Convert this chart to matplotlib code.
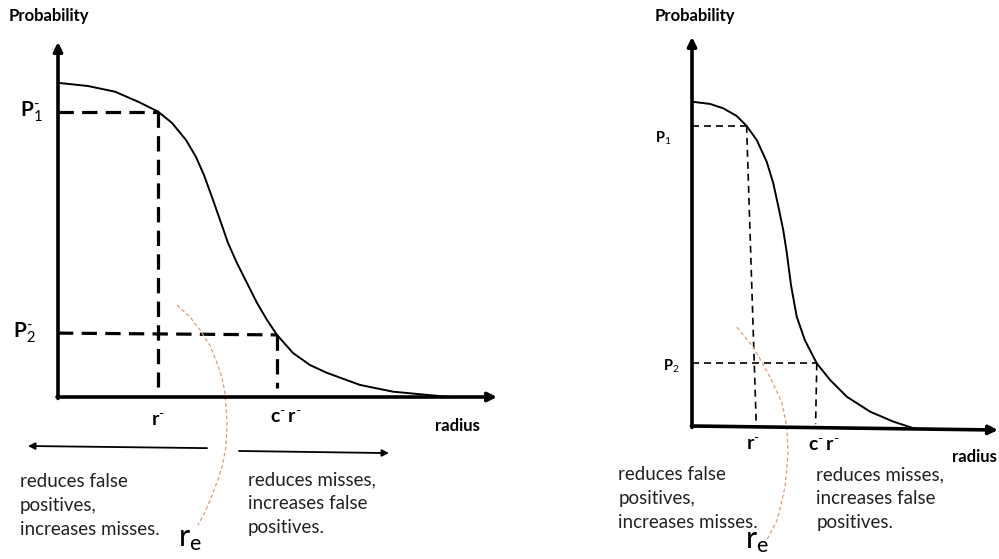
import matplotlib
matplotlib.use("Agg")
import matplotlib.pyplot as plt

plt.rcParams["font.family"] = ["Lato", "DejaVu Sans"]
plt.rcParams["mathtext.fontset"] = "custom"
plt.rcParams["mathtext.rm"] = "Lato"
plt.rcParams["mathtext.it"] = "Lato:italic"
plt.rcParams["mathtext.bf"] = "Lato:bold"

# ---- left sketch (radius r^-, probability curve) ----
left_r = [0.0, 0.30, 0.57, 0.80, 1.0, 1.14, 1.28, 1.38, 1.46, 1.54, 1.62, 1.70,
          1.79, 1.89, 1.99, 2.09, 2.19, 2.35, 2.52, 2.69, 3.02, 3.35, 3.69, 3.92]
left_p = [0.885, 0.876, 0.860, 0.832, 0.804, 0.772, 0.724, 0.676, 0.625, 0.563,
          0.499, 0.434, 0.377, 0.321, 0.265, 0.217, 0.175, 0.124, 0.090, 0.068,
          0.034, 0.015, 0.006, 0.0]
left_p1, left_p2 = 0.804, 0.175
left_r1, left_cr = 1.0, 2.19
left_arc_r = [1.19, 1.32, 1.42, 1.52, 1.59, 1.64, 1.67, 1.69, 1.68, 1.64, 1.59, 1.55, 1.48, 1.40]
left_arc_p = [0.259, 0.225, 0.189, 0.145, 0.096, 0.055, 0.011, -0.073, -0.140,
              -0.197, -0.240, -0.270, -0.318, -0.361]

# ---- right sketch ----
right_r = [0.0, 0.30, 0.52, 0.745, 0.91, 1.08, 1.245, 1.355, 1.44, 1.52, 1.58,
           1.65, 1.745, 1.88, 2.08, 2.30, 2.58, 2.97, 3.355, 3.69]
right_p = [0.886, 0.880, 0.868, 0.847, 0.820, 0.781, 0.722, 0.663, 0.599, 0.536,
           0.473, 0.385, 0.299, 0.235, 0.171, 0.126, 0.080, 0.039, 0.012, -0.006]
right_p1, right_p2 = 0.820, 0.171
right_r1_top, right_r1_bottom = 0.91, 1.07
right_cr_top, right_cr_bottom = 2.08, 2.06
right_arc_r = [0.75, 1.02, 1.30, 1.50, 1.58, 1.60, 1.55, 1.42, 1.22]
right_arc_p = [0.270, 0.216, 0.134, 0.063, -0.003, -0.074, -0.167, -0.257, -0.320]

orange = "#DE9E74"
text_left = "reduces false\npositives,\nincreases misses."
text_right = "reduces misses,\nincreases false\npositives."

fig = plt.figure(figsize=(9.99, 5.59), dpi=100)

# ================= left panel =================
ax = fig.add_axes([0, 0, 560 / 999, 1])
ax.set_xlim(-0.58, 5.02)
ax.set_ylim(-0.4563, 1.1183)
ax.axis("off")

arrow = dict(arrowstyle="-|>", lw=2.6, color="black", mutation_scale=13,
             shrinkA=0, shrinkB=0)
ax.annotate("", xy=(0, 1.0), xytext=(0, -0.004), arrowprops=arrow)
ax.annotate("", xy=(4.39, 0), xytext=(-0.01, 0), arrowprops=arrow)

ax.plot(left_r, left_p, color="black", lw=1.4, solid_joinstyle="round")

dash_kw = dict(color="black", lw=2.3, dashes=(4.8, 2.6))
ax.plot([0, left_r1], [left_p1, left_p1], **dash_kw)
ax.plot([left_r1, left_r1], [left_p1, 0.028], **dash_kw)
ax.plot([0, left_cr], [left_p2 + 0.005, left_p2], **dash_kw)
ax.plot([left_cr, left_cr], [left_p2, 0.025], **dash_kw)

ax.plot(left_arc_r, left_arc_p, color=orange, lw=0.9, dashes=(3, 2))

ax.text(-0.49, 1.073, "Probability", fontsize=12, fontweight="bold", va="center")
ax.text(-0.38, left_p1, r"$\mathbf{P}_{1}^{\text{-}}$", fontsize=15, va="center")
ax.text(-0.45, left_p2 + 0.005, r"$\mathbf{P}_{2}^{\text{-}}$", fontsize=15, va="center")
ax.text(left_r1, -0.068, r"$\mathbf{r}^{\text{-}}$", fontsize=14, ha="center", va="center")
ax.text(left_cr + 0.09, -0.06, r"$\mathbf{c}^{\text{-}}\,\mathbf{r}^{\text{-}}$",
        fontsize=14, ha="center", va="center")
ax.text(3.77, -0.082, "radius", fontsize=12, fontweight="bold", va="center")

thin_arrow = dict(arrowstyle="-|>", lw=1.3, color="black", mutation_scale=10,
                  shrinkA=0, shrinkB=0)
ax.annotate("", xy=(-0.30, -0.138), xytext=(1.49, -0.144), arrowprops=thin_arrow)
ax.annotate("", xy=(3.31, -0.158), xytext=(1.81, -0.152), arrowprops=thin_arrow)

ax.text(-0.38, -0.307, text_left, fontsize=13.5, va="center", linespacing=1.5,
        color="#222222")
ax.text(1.90, -0.301, text_right, fontsize=13.5, va="center", linespacing=1.5,
        color="#222222")
ax.text(1.20, -0.42, r"$\mathrm{r}_{\mathrm{e}}$", fontsize=22, va="baseline")

# ================= right panel =================
ax2 = fig.add_axes([600 / 999, 0, 399 / 999, 1])
ax2.set_xlim(-1.5333, 5.1167)
ax2.set_ylim(-0.3634, 1.1639)
ax2.axis("off")

ax2.annotate("", xy=(0, 1.063), xytext=(0, -0.004), arrowprops=arrow)
ax2.annotate("", xy=(5.10, -0.011), xytext=(-0.01, 0), arrowprops=arrow)

ax2.plot(right_r, right_p, color="black", lw=1.4, solid_joinstyle="round")

dash2 = dict(color="black", lw=1.2, dashes=(4.2, 3.0))
ax2.plot([0, right_r1_top], [right_p1, right_p1], **dash2)
ax2.plot([right_r1_top, right_r1_bottom], [right_p1, 0.008], **dash2)
ax2.plot([0, right_cr_top], [right_p2, right_p2], **dash2)
ax2.plot([right_cr_top, right_cr_bottom], [right_p2, 0.005], **dash2)

ax2.plot(right_arc_r, right_arc_p, color=orange, lw=0.9, dashes=(3, 2))

ax2.text(-0.62, 1.12, "Probability", fontsize=12, fontweight="bold", va="center")
ax2.text(-0.62, 0.787, r"$\mathbf{P}_{1}$", fontsize=10.5, va="center")
ax2.text(-0.48, 0.164, r"$\mathbf{P}_{2}$", fontsize=10.5, va="center")
ax2.text(1.02, -0.052, r"$\mathbf{r}^{\text{-}}$", fontsize=14, ha="center", va="center")
ax2.text(2.20, -0.057, r"$\mathbf{c}^{\text{-}}\,\mathbf{r}^{\text{-}}$",
         fontsize=14, ha="center", va="center")
ax2.text(4.33, -0.085, "radius", fontsize=12, fontweight="bold", va="center")

ax2.text(-1.23, -0.198, text_left, fontsize=13.5, va="center", linespacing=1.5,
         color="#222222")
ax2.text(2.07, -0.198, text_right, fontsize=13.5, va="center", linespacing=1.5,
         color="#222222")
ax2.text(0.88, -0.333, r"$\mathrm{r}_{\mathrm{e}}$", fontsize=22, va="baseline")

fig.savefig("out.png", dpi=100)
